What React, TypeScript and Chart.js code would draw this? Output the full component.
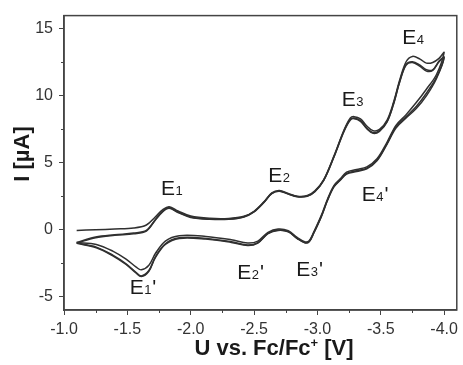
import React, { useEffect, useRef } from "react";
import { Chart, registerables } from "chart.js";

Chart.register(...registerables);

// Potential sweep (V vs Fc/Fc+)
const U_FWD = [-1.10, -1.25, -1.40, -1.55, -1.65, -1.72, -1.78, -1.83, -1.90, -2.00, -2.15, -2.30, -2.42, -2.50, -2.58, -2.64, -2.70, -2.77, -2.84, -2.92, -2.98, -3.05, -3.13, -3.21, -3.26, -3.29, -3.34, -3.39, -3.44, -3.49, -3.55, -3.60, -3.65, -3.70, -3.75, -3.81, -3.86, -3.91, -3.96, -4.00];
const U_REV = [-4.00, -3.94, -3.86, -3.78, -3.70, -3.62, -3.55, -3.47, -3.39, -3.31, -3.23, -3.18, -3.13, -3.08, -3.03, -2.97, -2.935, -2.90, -2.84, -2.77, -2.69, -2.61, -2.53, -2.45, -2.32, -2.12, -1.91, -1.80, -1.72, -1.67, -1.61, -1.57, -1.49, -1.385, -1.255, -1.10];

// Currents (µA) for three cycles
const I_FWD_1 = [-0.05, 0.0, 0.05, 0.12, 0.35, 0.95, 1.5, 1.72, 1.4, 1.02, 0.85, 0.84, 1.0, 1.38, 2.1, 2.75, 2.93, 2.7, 2.5, 2.55, 2.9, 3.75, 5.5, 7.45, 8.35, 8.45, 8.28, 7.75, 7.4, 7.5, 8.2, 9.5, 11.2, 12.55, 12.95, 12.75, 12.45, 12.5, 12.8, 13.25];
const I_REV_1 = [13.25, 11.6, 10.5, 9.5, 8.6, 7.8, 6.55, 5.3, 4.7, 4.5, 4.3, 3.8, 3.3, 2.3, 1.05, -0.2, -0.82, -0.9, -0.58, -0.08, 0.05, -0.2, -0.85, -1.0, -0.75, -0.5, -0.45, -0.85, -1.8, -2.65, -3.0, -2.8, -2.2, -1.6, -1.1, -0.95];
const I_FWD_2 = [-0.95, -0.55, -0.38, -0.25, -0.05, 0.75, 1.4, 1.65, 1.32, 0.95, 0.8, 0.8, 0.97, 1.35, 2.08, 2.72, 2.9, 2.68, 2.48, 2.52, 2.86, 3.7, 5.45, 7.4, 8.25, 8.35, 8.15, 7.6, 7.25, 7.4, 8.1, 9.4, 11.1, 12.35, 12.55, 12.3, 11.95, 11.95, 12.6, 12.9];
const I_REV_2 = [12.9, 11.4, 10.2, 9.2, 8.45, 7.7, 6.45, 5.2, 4.6, 4.4, 4.2, 3.72, 3.22, 2.22, 0.98, -0.26, -0.88, -0.96, -0.64, -0.14, -0.02, -0.27, -0.97, -1.15, -0.9, -0.65, -0.6, -1.05, -2.05, -3.05, -3.45, -3.2, -2.55, -1.9, -1.3, -1.0];
const I_FWD_3 = [-1.0, -0.6, -0.42, -0.3, -0.1, 0.7, 1.35, 1.6, 1.28, 0.92, 0.78, 0.78, 0.95, 1.33, 2.05, 2.7, 2.88, 2.66, 2.46, 2.5, 2.84, 3.68, 5.42, 7.35, 8.2, 8.3, 8.1, 7.55, 7.2, 7.35, 8.05, 9.35, 11.05, 12.3, 12.5, 12.2, 11.85, 11.9, 12.55, 12.85];
const I_REV_3 = [12.85, 11.3, 10.0, 9.05, 8.35, 7.6, 6.4, 5.15, 4.55, 4.35, 4.15, 3.7, 3.2, 2.2, 0.96, -0.28, -0.9, -0.98, -0.66, -0.16, -0.05, -0.3, -1.0, -1.18, -0.95, -0.7, -0.65, -1.1, -2.1, -3.1, -3.5, -3.25, -2.6, -1.95, -1.35, -1.02];

// Axis ticks
const X_TICKS = [-1.0, -1.5, -2.0, -2.5, -3.0, -3.5, -4.0];
const X_MINOR = [-1.25, -1.75, -2.25, -2.75, -3.25, -3.75];
const Y_TICKS = [-5, 0, 5, 10, 15];
const Y_MINOR = [-2.5, 2.5, 7.5, 12.5];

// Peak labels: main, subscript, prime, anchor (left of "E", baseline)
const PEAK_MAIN = ["E", "E", "E", "E", "E", "E", "E", "E"];
const PEAK_SUB = ["1", "2", "3", "4", "1", "2", "3", "4"];
const PEAK_PRIME = ["", "", "", "", "'", "'", "'", "'"];
const PEAK_U = [-1.765, -2.612, -3.192, -3.67, -1.518, -2.367, -2.833, -3.35];
const PEAK_I = [2.62, 3.6, 9.25, 13.9, -4.78, -3.68, -3.48, 2.11];

const X_TITLE = ["U vs. Fc/Fc", "+", " [V]"];
const Y_TITLE = "I [µA]";

const FONT = "'Liberation Sans', Arial, sans-serif";
const LINE = "#303030";
const AXIS = "#444444";

function cycle(iF: number[], iR: number[]) {
  const pts: { x: number; y: number }[] = [];
  U_FWD.forEach((u, k) => pts.push({ x: u, y: iF[k] }));
  U_REV.forEach((u, k) => { if (k > 0) pts.push({ x: u, y: iR[k] }); });
  return pts;
}

const decorPlugin = {
  id: "decor",
  afterDraw(chart: any) {
    const ctx = chart.ctx;
    const a = chart.chartArea;
    const xs = chart.scales.x;
    const ys = chart.scales.y;
    ctx.save();
    // frame
    ctx.strokeStyle = AXIS;
    ctx.lineWidth = 1.5;
    ctx.strokeRect(a.left, a.top, a.right - a.left, a.bottom - a.top);
    // minor ticks
    ctx.lineWidth = 1;
    ctx.beginPath();
    X_MINOR.forEach((v) => {
      const p = Math.round(xs.getPixelForValue(v)) + 0.5;
      ctx.moveTo(p, a.bottom);
      ctx.lineTo(p, a.bottom + 3);
    });
    Y_MINOR.forEach((v) => {
      const p = Math.round(ys.getPixelForValue(v)) + 0.5;
      ctx.moveTo(a.left, p);
      ctx.lineTo(a.left - 3, p);
    });
    ctx.stroke();

    // peak labels
    ctx.fillStyle = "#1a1a1a";
    ctx.textBaseline = "alphabetic";
    ctx.textAlign = "left";
    PEAK_MAIN.forEach((m, k) => {
      let x = xs.getPixelForValue(PEAK_U[k]);
      const y = ys.getPixelForValue(PEAK_I[k]);
      ctx.font = `21px ${FONT}`;
      ctx.fillText(m, x, y);
      x += ctx.measureText(m).width + 0.5;
      ctx.font = `13px ${FONT}`;
      ctx.fillText(PEAK_SUB[k], x, y);
      x += ctx.measureText(PEAK_SUB[k]).width + 1;
      if (PEAK_PRIME[k]) {
        ctx.font = `21px ${FONT}`;
        ctx.fillText(PEAK_PRIME[k], x, y);
      }
    });

    // x title
    ctx.fillStyle = "#1a1a1a";
    const big = `bold 22px ${FONT}`;
    const small = `bold 13px ${FONT}`;
    ctx.font = big;
    const w0 = ctx.measureText(X_TITLE[0]).width;
    const w2 = ctx.measureText(X_TITLE[2]).width;
    ctx.font = small;
    const w1 = ctx.measureText(X_TITLE[1]).width;
    const total = w0 + w1 + w2;
    let tx = 274 - total / 2;
    const ty = 355;
    ctx.font = big;
    ctx.fillText(X_TITLE[0], tx, ty);
    tx += w0;
    ctx.font = small;
    ctx.fillText(X_TITLE[1], tx, ty - 8);
    tx += w1;
    ctx.font = big;
    ctx.fillText(X_TITLE[2], tx, ty);

    // y title
    ctx.translate(23, 154);
    ctx.rotate(-Math.PI / 2);
    ctx.textAlign = "center";
    ctx.textBaseline = "middle";
    ctx.font = big;
    ctx.fillText(Y_TITLE, 0, 0);
    ctx.restore();
  },
};

export default function App() {
  const ref = useRef<HTMLCanvasElement | null>(null);
  useEffect(() => {
    document.body.style.margin = "0";
    const ds = [
      cycle(I_FWD_1, I_REV_1),
      cycle(I_FWD_2, I_REV_2),
      cycle(I_FWD_3, I_REV_3),
    ].map((d, k) => ({
      label: `Cycle ${k + 1}`,
      data: d,
      showLine: true,
      borderColor: LINE,
      borderWidth: 1.5,
      pointRadius: 0,
      tension: 0.35,
      fill: false,
    }));
    const chart = new Chart(ref.current as HTMLCanvasElement, {
      type: "scatter",
      data: { datasets: ds as any },
      options: {
        animation: false,
        responsive: false,
        maintainAspectRatio: false,
        layout: { padding: { top: 15, right: 3, left: 0, bottom: 0 } },
        plugins: { legend: { display: false }, tooltip: { enabled: false } },
        scales: {
          x: {
            type: "linear",
            min: -4.1,
            max: -1.0,
            reverse: true,
            afterBuildTicks: (s: any) => { s.ticks = X_TICKS.map((v) => ({ value: v })); },
            afterFit: (s: any) => { s.height = 55; },
            ticks: {
              color: "#333",
              font: { family: FONT, size: 16 },
              padding: 5,
              maxRotation: 0,
              callback: (v: any) => Number(v).toFixed(1),
            },
            grid: { drawOnChartArea: false, drawTicks: true, tickLength: 5, color: AXIS, lineWidth: 1 },
            border: { display: true, color: AXIS, width: 1.5 },
          },
          y: {
            type: "linear",
            min: -6,
            max: 16,
            afterBuildTicks: (s: any) => { s.ticks = Y_TICKS.map((v) => ({ value: v })); },
            afterFit: (s: any) => { s.width = 64; },
            ticks: {
              color: "#333",
              font: { family: FONT, size: 16 },
              padding: 6,
              callback: (v: any) => String(v),
            },
            grid: { drawOnChartArea: false, drawTicks: true, tickLength: 5, color: AXIS, lineWidth: 1 },
            border: { display: true, color: AXIS, width: 1.5 },
          },
        },
      },
      plugins: [decorPlugin],
    });
    return () => chart.destroy();
  }, []);
  return <canvas ref={ref} width={463} height={365} style={{ display: "block" }} />;
}
